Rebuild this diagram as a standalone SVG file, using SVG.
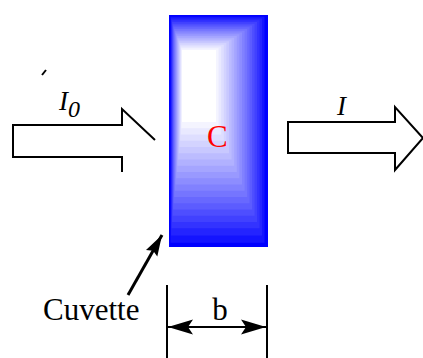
<svg xmlns="http://www.w3.org/2000/svg" width="423" height="358" viewBox="0 0 423 358">
<style>
.txt{font-family:"Liberation Serif","Times New Roman",serif;fill:#000}
.it{font-style:italic}
.beam{fill:#fff;stroke:#000;stroke-width:2;stroke-linejoin:miter}
.ln{stroke:#000;fill:none}
</style>
<defs>
<marker id="dimhead" viewBox="-1 -9 27 18" refX="25" refY="0" markerWidth="27" markerHeight="18" markerUnits="userSpaceOnUse" orient="auto-start-reverse">
<path d="M25,0 L0,-7.5 L5,0 L0,7.5 Z" fill="#000"/>
</marker>
<marker id="ptrhead" viewBox="-1 -8 23 16" refX="21" refY="0" markerWidth="23" markerHeight="16" markerUnits="userSpaceOnUse" orient="auto">
<path d="M21,0 L0,-6.5 L3,0 L0,6.5 Z" fill="#000"/>
</marker>
</defs>
<rect width="423" height="358" fill="#fff"/>
<g id="node-incident-beam">
<polyline class="beam" points="122,172 122,157 13,157 13,125 122,125 122,109 155,140" style="fill:none"/>
<line class="ln" x1="42" y1="75" x2="46" y2="70" stroke-width="2"/>
<text class="txt it" x="59" y="110" font-size="27">I<tspan font-size="24" dy="7">0</tspan></text>
</g>
<g id="node-cuvette">
<rect x="169" y="15" width="99" height="232" fill="rgb(0,0,255)"/>
<rect x="170.5" y="16.75" width="94" height="226" fill="rgb(20,20,255)"/>
<rect x="171.1" y="18.5" width="91" height="217" fill="rgb(36,36,255)"/>
<rect x="171.6" y="20.25" width="88" height="208" fill="rgb(51,51,255)"/>
<rect x="172.1" y="22" width="85" height="200" fill="rgb(65,65,255)"/>
<rect x="172.6" y="23.75" width="82" height="192" fill="rgb(78,78,255)"/>
<rect x="173.1" y="25.5" width="79" height="184" fill="rgb(92,92,255)"/>
<rect x="173.6" y="27.25" width="76" height="176" fill="rgb(104,104,255)"/>
<rect x="174.2" y="29" width="73" height="168" fill="rgb(117,117,255)"/>
<rect x="174.85" y="30.75" width="69.75" height="160" fill="rgb(129,129,255)"/>
<rect x="175.5" y="32.5" width="66.5" height="152" fill="rgb(141,141,255)"/>
<rect x="176.15" y="34.25" width="63.25" height="144" fill="rgb(153,153,255)"/>
<rect x="176.8" y="36" width="60" height="136" fill="rgb(165,165,255)"/>
<rect x="177.45" y="37.75" width="56.75" height="128" fill="rgb(177,177,255)"/>
<rect x="178.1" y="39.5" width="53.5" height="120" fill="rgb(188,188,255)"/>
<rect x="178.75" y="41.25" width="50.25" height="112" fill="rgb(200,200,255)"/>
<rect x="179.4" y="43" width="47" height="104" fill="rgb(211,211,255)"/>
<rect x="180.05" y="44.75" width="43.75" height="96" fill="rgb(222,222,255)"/>
<rect x="180.7" y="46.5" width="40.5" height="88" fill="rgb(233,233,255)"/>
<rect x="181.35" y="48.25" width="37.25" height="80" fill="rgb(244,244,255)"/>
<rect x="182" y="50" width="34" height="72" fill="rgb(255,255,255)"/>
<text class="txt" x="207" y="147" font-size="31" style="fill:#f00">C</text>
</g>
<g id="node-transmitted-beam">
<polygon class="beam" points="288,122 395,122 395,107 423,138 395,170 395,153 288,153"/>
<text class="txt it" x="337" y="115" font-size="27">I</text>
</g>
<g id="node-cuvette-label">
<text class="txt" x="43" y="320" font-size="31">Cuvette</text>
</g>
<g id="node-width">
<line class="ln" x1="167" y1="285" x2="167" y2="358" stroke-width="2"/>
<line class="ln" x1="267" y1="285" x2="267" y2="358" stroke-width="2"/>
<text class="txt" x="220" y="320" font-size="31" text-anchor="middle">b</text>
</g>
<g id="connectors">
<line class="ln" x1="128" y1="295" x2="162" y2="235" stroke-width="3" marker-end="url(#ptrhead)"/>
<line class="ln" x1="168" y1="327" x2="266" y2="327" stroke-width="2" marker-start="url(#dimhead)" marker-end="url(#dimhead)"/>
</g>
</svg>
